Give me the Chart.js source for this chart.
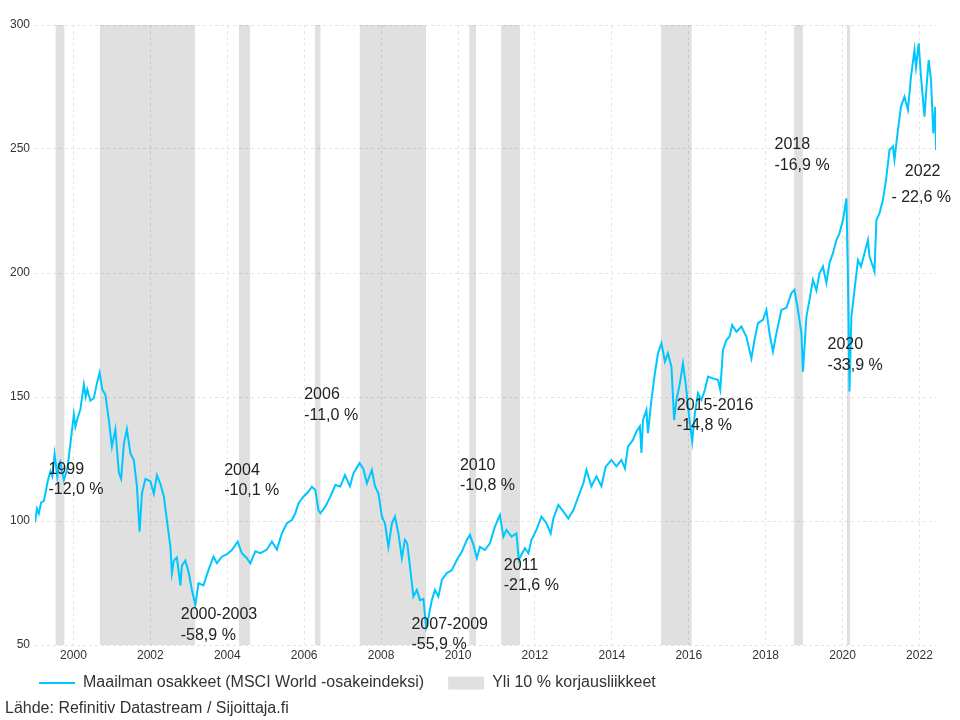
<!DOCTYPE html>
<html>
<head>
<meta charset="utf-8">
<script src="https://cdn.jsdelivr.net/npm/chart.js@4.4.0/dist/chart.umd.min.js"></script>
<style>
  body { margin: 0; background: #fff; }
  #wrap { position: relative; width: 960px; height: 720px; }
  #source { position: absolute; left: 5px; top: 699px; font: 16px "Liberation Sans", Arial, sans-serif; color: #333; }
</style>
</head>
<body>
<div id="wrap">
  <canvas id="chart"></canvas>
  <div id="source">Lähde: Refinitiv Datastream / Sijoittaja.fi</div>
</div>
<script>
const SERIES_LABEL = "Maailman osakkeet (MSCI World -osakeindeksi)";
const BAND_LABEL = "Yli 10 % korjausliikkeet";

// index level (x = decimal year)
const dates = [
  1999.00, 1999.05, 1999.10, 1999.16, 1999.23, 1999.27, 1999.33, 1999.40, 1999.45, 1999.51, 1999.58, 1999.62, 1999.66, 1999.70, 1999.75, 1999.84, 1999.92,
  2000.01, 2000.05, 2000.10, 2000.18, 2000.27, 2000.32, 2000.36, 2000.44, 2000.53, 2000.61, 2000.68, 2000.75, 2000.83, 2000.92,
  2001.00, 2001.09, 2001.18, 2001.24, 2001.31, 2001.39, 2001.48, 2001.57, 2001.65, 2001.72, 2001.78, 2001.87,
  2002.00, 2002.09, 2002.17, 2002.26, 2002.35, 2002.43, 2002.52, 2002.56, 2002.61, 2002.69, 2002.78, 2002.82, 2002.91,
  2003.00, 2003.08, 2003.17, 2003.25, 2003.38, 2003.51, 2003.64, 2003.73, 2003.86, 2003.99,
  2004.12, 2004.27, 2004.38, 2004.51, 2004.60, 2004.73, 2004.86,
  2005.03, 2005.16, 2005.29, 2005.42, 2005.55, 2005.68, 2005.77, 2005.85, 2005.98,
  2006.11, 2006.20, 2006.29, 2006.37, 2006.42, 2006.55, 2006.68, 2006.81, 2006.94,
  2007.06, 2007.19, 2007.28, 2007.44, 2007.54, 2007.63, 2007.76, 2007.84, 2007.93,
  2008.02, 2008.10, 2008.19, 2008.28, 2008.36, 2008.45, 2008.54, 2008.62, 2008.68, 2008.77, 2008.84, 2008.93,
  2009.01, 2009.10, 2009.17, 2009.23, 2009.32, 2009.40, 2009.49, 2009.58, 2009.71, 2009.84, 2009.97,
  2010.10, 2010.23, 2010.31, 2010.40, 2010.49, 2010.57, 2010.70, 2010.83, 2010.96,
  2011.09, 2011.18, 2011.26, 2011.39, 2011.52, 2011.58, 2011.65, 2011.74, 2011.83, 2011.91,
  2012.04, 2012.17, 2012.30, 2012.41, 2012.48, 2012.61, 2012.74, 2012.87,
  2013.00, 2013.13, 2013.26, 2013.34, 2013.47, 2013.60, 2013.73, 2013.84, 2013.99,
  2014.12, 2014.25, 2014.34, 2014.42, 2014.55, 2014.64, 2014.73, 2014.77, 2014.81, 2014.90, 2014.94,
  2015.03, 2015.12, 2015.20, 2015.29, 2015.38, 2015.46, 2015.55, 2015.62, 2015.68, 2015.77, 2015.85, 2015.92,
  2016.01, 2016.09, 2016.16, 2016.24, 2016.33, 2016.42, 2016.50, 2016.63, 2016.76, 2016.82, 2016.89, 2016.98,
  2017.06, 2017.13, 2017.24, 2017.37, 2017.50, 2017.63, 2017.71, 2017.80, 2017.93,
  2018.02, 2018.10, 2018.19, 2018.28, 2018.41, 2018.54, 2018.67, 2018.75, 2018.84, 2018.93, 2018.97,
  2019.06, 2019.14, 2019.23, 2019.32, 2019.40, 2019.49, 2019.58, 2019.66, 2019.75, 2019.84, 2019.92,
  2020.01, 2020.10, 2020.14, 2020.18, 2020.23, 2020.31, 2020.40, 2020.48, 2020.57, 2020.66, 2020.70, 2020.79, 2020.83, 2020.88, 2020.96,
  2021.05, 2021.13, 2021.22, 2021.31, 2021.35, 2021.44, 2021.52, 2021.61, 2021.70, 2021.78, 2021.87, 2021.91, 2021.98,
  2022.04, 2022.13, 2022.19, 2022.24, 2022.30, 2022.36, 2022.41, 2022.43
];
const msci = [
  99.5, 105, 103, 107.5, 108, 111, 116, 120, 118, 127, 118, 123, 124, 120, 116.5, 121, 131,
  143, 138, 141, 145, 155, 150, 153, 148.5, 149.5, 155.5, 159.8, 153, 151, 140.7,
  130, 137, 119.6, 117, 131, 137, 127.3, 124.6, 114, 95.7, 111, 117,
  116, 111, 118.5, 115, 110, 100.4, 89.7, 79, 84, 85.3, 74, 82, 84,
  79, 72.2, 66.1, 74.9, 74, 80.2, 85.6, 83, 85.6, 86.6,
  88.3, 91.7, 87, 85, 82.9, 87.8, 87,
  88.5, 91.7, 88.5, 95, 99.1, 100.4, 103.1, 107.1, 109.8,
  111.8, 113.8, 112.5, 104.4, 103.1, 105.8, 109.8, 114.5, 113.9,
  118.5, 114, 119.2, 123.3, 121, 115.2, 120.6, 114, 111.2,
  101.8, 99.1, 89.6, 99, 101.8, 95, 85, 92.4, 91, 79, 69.5, 72.2,
  68.1, 68.6, 57.4, 61, 68.1, 72.2, 69.5, 76.2, 79, 80.2, 84.3,
  87.6, 92.4, 94.4, 90.4, 85, 89.6, 88.3, 91, 97.7,
  102.4, 93.7, 96.4, 93.7, 95, 84.3, 86.4, 89, 87, 92.4,
  96.4, 101.8, 99.1, 95, 101, 106.5, 103.8, 101,
  104.4, 109.8, 115.2, 120.6, 114, 118, 114, 121.9, 124.6,
  122, 124.6, 121.2, 130, 132.7, 136.1, 138.2, 127.4, 140.7, 144.8, 135.4,
  148.8, 159.6, 167.6, 171.7, 164.3, 167.6, 162.2, 140.7, 148.8, 155.5, 163.6, 155.5,
  142.1, 132, 143.4, 151.5, 148.8, 152.9, 158.2, 157.5, 156.9, 152.9, 169, 173,
  174.3, 179, 176.3, 178.4, 174.3, 165.6, 173, 179.8, 181.1,
  185.1, 175.7, 168.3, 175.7, 185.1, 186, 191.9, 193.2, 185.1, 175.7, 160.2,
  182.4, 189.1, 197.2, 193, 199.9, 202.6, 196, 204, 208, 213.3, 216,
  221.4, 230.1, 198.5, 152.2, 182.4, 193, 205.2, 202.6, 208, 213.3, 206.6, 202.6, 200.6, 221.4, 224,
  229.5, 237.5, 249.6, 251, 245.7, 257.7, 267.1, 271.1, 265.8, 279.2, 289.9, 283, 292.6,
  279.2, 263, 276.5, 285.9, 277.8, 256.3, 267, 249.6
];

// corrections over 10 %
const bandStart = [1999.53, 2000.68, 2004.30, 2006.28, 2007.44, 2010.29, 2011.12, 2015.28, 2018.74, 2020.11];
const bandEnd   = [1999.77, 2003.17, 2004.60, 2006.43, 2009.17, 2010.47, 2011.62, 2016.08, 2018.97, 2020.20];

const xTicks = [2000, 2002, 2004, 2006, 2008, 2010, 2012, 2014, 2016, 2018, 2020, 2022];
const yTicks = [50, 100, 150, 200, 250, 300];

// annotation text, anchored in data units (left edge, middle of line)
const noteText = ["1999", "-12,0 %", "2000-2003", "-58,9 %", "2004", "-10,1 %", "2006", "-11,0 %",
  "2007-2009", "-55,9 %", "2010", "-10,8 %", "2011", "-21,6 %", "2015-2016", "-14,8 %",
  "2018", "-16,9 %", "2020", "-33,9 %", "2022", "- 22,6 %"];
const noteX = [1999.35, 1999.35, 2002.79, 2002.79, 2003.92, 2003.92, 2006.0, 2006.0,
  2008.79, 2008.79, 2010.05, 2010.05, 2011.19, 2011.19, 2015.69, 2015.69,
  2018.23, 2018.23, 2019.61, 2019.61, 2021.62, 2021.27];
const noteY = [120.6, 112.5, 62.1, 53.6, 120.2, 112.1, 150.8, 142.7,
  58.1, 50.0, 122.2, 114.1, 81.9, 73.8, 146.4, 138.3,
  251.6, 243.2, 171.0, 162.5, 240.7, 230.6];

const LINE = '#00c6ff';
const BAND = 'rgba(0, 0, 0, 0.12)';
const FONT = '"Liberation Sans", Arial, sans-serif';

Chart.defaults.font.family = FONT;

const notesPlugin = {
  id: 'notes',
  afterDatasetsDraw(chart) {
    const { ctx, scales: { x, y } } = chart;
    ctx.save();
    ctx.font = '16px ' + FONT;
    ctx.fillStyle = '#222';
    ctx.textAlign = 'left';
    ctx.textBaseline = 'middle';
    noteText.forEach((t, i) => {
      ctx.fillText(t, x.getPixelForValue(noteX[i]), y.getPixelForValue(noteY[i]));
    });
    ctx.restore();
  }
};

// nudge the legend so it sits closer to the axis and lines up with the source text
const legendShift = {
  id: 'legendShift',
  afterLayout(chart) {
    const l = chart.legend;
    l.left += 15;
    l.top -= 12;
    l.bottom -= 12;
  }
};

const bandSets = bandStart.map((s, i) => ({
  label: BAND_LABEL,
  data: [{ x: s, y: yTicks[yTicks.length - 1] }, { x: bandEnd[i], y: yTicks[yTicks.length - 1] }],
  fill: 'start',
  backgroundColor: BAND,
  borderColor: 'transparent',
  borderWidth: 0,
  pointRadius: 0,
  pointStyle: 'rect'
}));

const gridOpts = { color: '#e4e4e4', drawTicks: false, borderDash: [3, 3] };
const borderOpts = { display: false, dash: [3, 3] };

new Chart(document.getElementById('chart'), {
  type: 'line',
  data: {
    datasets: [
      {
        label: SERIES_LABEL,
        data: dates.map((d, i) => ({ x: d, y: msci[i] })),
        borderColor: LINE,
        backgroundColor: LINE,
        borderWidth: 2,
        pointRadius: 0,
        pointStyle: 'line',
        tension: 0,
        fill: false
      },
      ...bandSets
    ]
  },
  options: {
    responsive: true,
    maintainAspectRatio: false,
    animation: false,
    layout: { padding: { left: 0, right: 24, top: 25, bottom: 7 } },
    scales: {
      x: {
        type: 'linear',
        bounds: 'data',
        min: 1999,
        max: 2022.43,
        afterBuildTicks: s => { s.ticks = xTicks.map(v => ({ value: v })); },
        afterFit: s => { s.height = 18; },
        ticks: { callback: v => String(v), color: '#333', font: { size: 12 }, padding: 3, maxRotation: 0, autoSkip: false },
        grid: gridOpts,
        border: borderOpts
      },
      y: {
        min: yTicks[0],
        max: yTicks[yTicks.length - 1],
        afterBuildTicks: s => { s.ticks = yTicks.map(v => ({ value: v })); },
        afterFit: s => { s.width = 35; },
        ticks: { color: '#333', font: { size: 12 }, padding: 5 },
        grid: gridOpts,
        border: borderOpts
      }
    },
    plugins: {
      legend: {
        position: 'bottom',
        align: 'start',
        labels: {
          usePointStyle: true,
          pointStyleWidth: 36,
          boxHeight: 13,
          padding: 24,
          color: '#333',
          font: { size: 16 },
          filter: item => item.datasetIndex <= 1
        }
      },
      tooltip: { enabled: false }
    }
  },
  plugins: [notesPlugin, legendShift]
});
</script>
</body>
</html>
